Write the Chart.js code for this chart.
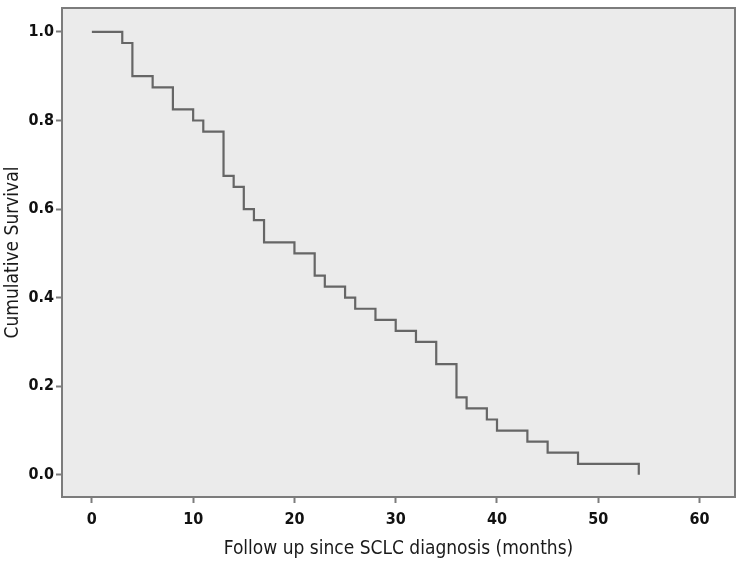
<!DOCTYPE html>
<html>
<head>
<meta charset="utf-8">
<script src="https://cdn.jsdelivr.net/npm/chart.js@4"></script>
<style>
  html, body { margin: 0; padding: 0; background: #fff; }
  #wrap { width: 739px; height: 562px; }
</style>
</head>
<body>
<div id="wrap"><canvas id="km"></canvas></div>
<script>
// Kaplan-Meier steps
const months = [0, 3, 4, 6, 8, 10, 11, 13, 14, 15, 16, 17, 20, 22, 23, 25, 26, 28, 30, 32, 34, 36, 37, 39, 40, 43, 45, 48, 54]
const survival = [1.0, 0.975, 0.9, 0.875, 0.825, 0.8, 0.775, 0.675, 0.65, 0.6, 0.575, 0.525, 0.5, 0.45, 0.425, 0.4, 0.375, 0.35, 0.325, 0.3, 0.25, 0.175, 0.15, 0.125, 0.1, 0.075, 0.05, 0.025, 0.0]
const xTicks = [0, 10, 20, 30, 40, 50, 60]
const yTicks = [0.0, 0.2, 0.4, 0.6, 0.8, 1.0]

const tickFont = { family: "'DejaVu Sans Condensed', 'DejaVu Sans'", size: 16, weight: "bold" }
const titleFont = { family: "'DejaVu Sans Condensed', 'DejaVu Sans'", size: 19 }

// grey plot panel with a frame, like SPSS
const panel = {
  id: "panel",
  beforeDatasetsDraw(chart) {
    const { ctx, chartArea: a } = chart
    ctx.save()
    ctx.fillStyle = "#ebebeb"
    ctx.fillRect(a.left, a.top, a.right - a.left, a.bottom - a.top)
    ctx.restore()
  },
  afterDraw(chart) {
    const { ctx, chartArea: a } = chart
    ctx.save()
    ctx.strokeStyle = "#7c7c7c"
    ctx.lineWidth = 2
    ctx.strokeRect(a.left, a.top, a.right - a.left, a.bottom - a.top)
    ctx.restore()
  },
}

new Chart(document.getElementById("km"), {
  type: "line",
  data: {
    datasets: [
      {
        data: months.map((m, i) => ({ x: m, y: survival[i] })),
        stepped: "before",
        borderColor: "#666666",
        borderWidth: 2.2,
        pointRadius: 0,
        fill: false,
      },
    ],
  },
  options: {
    responsive: true,
    maintainAspectRatio: false,
    animation: false,
    layout: { padding: { top: 8, right: 4, left: 0, bottom: 0 } },
    plugins: { legend: { display: false }, tooltip: { enabled: false } },
    scales: {
      x: {
        type: "linear",
        min: -2.95,
        max: 63.5,
        afterBuildTicks: (s) => { s.ticks = xTicks.map((v) => ({ value: v })) },
        afterFit: (s) => { s.height = 65 },
        grid: { drawOnChartArea: false, drawTicks: true, tickLength: 6, tickWidth: 2, color: "#7c7c7c" },
        border: { display: false },
        ticks: { font: tickFont, color: "#111", padding: 7, maxRotation: 0 },
        title: {
          display: true,
          text: "Follow up since SCLC diagnosis (months)",
          font: titleFont,
          color: "#1a1a1a",
          padding: { top: 0, bottom: 2 },
        },
      },
      y: {
        type: "linear",
        min: -0.05,
        max: 1.054,
        afterBuildTicks: (s) => { s.ticks = yTicks.map((v) => ({ value: v })) },
        afterFit: (s) => {
          s.width = 62
          s.paddingTop = 0
          s.paddingBottom = 0
        },
        grid: { drawOnChartArea: false, drawTicks: true, tickLength: 6, tickWidth: 2, color: "#7c7c7c" },
        border: { display: false },
        ticks: { font: tickFont, color: "#111", padding: 2, callback: (v) => v.toFixed(1) },
        title: {
          display: true,
          text: "Cumulative Survival",
          font: titleFont,
          color: "#1a1a1a",
          padding: { top: 2, bottom: 0 },
        },
      },
    },
  },
  plugins: [panel],
})
</script>
</body>
</html>
